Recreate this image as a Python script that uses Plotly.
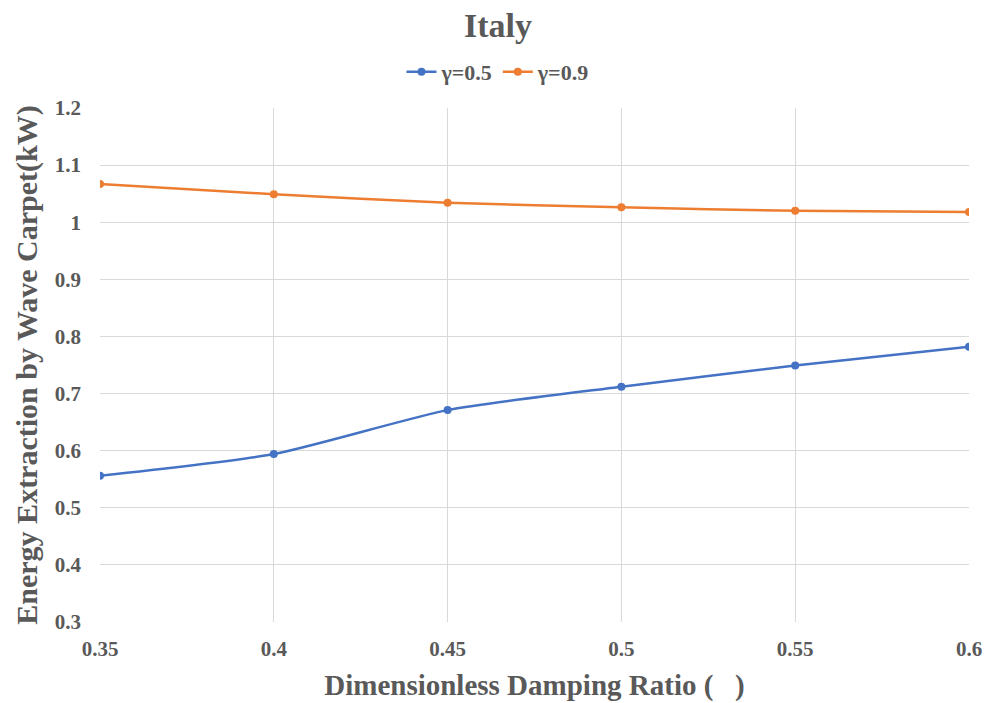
import plotly.graph_objects as go

damping = [0.35, 0.4, 0.45, 0.5, 0.55, 0.6]
gamma_05 = [0.556, 0.594, 0.671, 0.712, 0.749, 0.782]
gamma_09 = [1.067, 1.049, 1.034, 1.026, 1.020, 1.018]
x_ticks = [0.35, 0.4, 0.45, 0.5, 0.55, 0.6]
x_tick_labels = ["0.35", "0.4", "0.45", "0.5", "0.55", "0.6"]
y_ticks = [0.3, 0.4, 0.5, 0.6, 0.7, 0.8, 0.9, 1.0, 1.1, 1.2]
y_tick_labels = ["0.3", "0.4", "0.5", "0.6", "0.7", "0.8", "0.9", "1", "1.1", "1.2"]

font_family = "Liberation Serif, Times New Roman, serif"
gray = "#595959"

fig = go.Figure()
fig.add_trace(go.Scatter(x=damping, y=gamma_05, mode="lines+markers", name="<b>γ=0.5</b>",
                         line=dict(color="#4472C4", width=2.5, shape="spline", smoothing=0.6),
                         marker=dict(size=8, color="#4472C4")))
fig.add_trace(go.Scatter(x=damping, y=gamma_09, mode="lines+markers", name="<b>γ=0.9</b>",
                         line=dict(color="#ED7D31", width=2.5, shape="spline", smoothing=0.6),
                         marker=dict(size=8, color="#ED7D31")))

fig.update_layout(
    width=990, height=703,
    paper_bgcolor="white", plot_bgcolor="white",
    margin=dict(l=100, r=21, t=108, b=81, autoexpand=False),
    font=dict(family=font_family, color=gray, size=21),
    title=dict(text="<b>Italy</b>", x=0.503, xref="container", xanchor="center", y=0.965, yanchor="middle",
               font=dict(size=34, color=gray, family=font_family)),
    legend=dict(orientation="h", xref="paper", yref="paper", x=0.458, xanchor="center",
                y=1.07, yanchor="middle",
                font=dict(size=22, color=gray, family=font_family), itemwidth=30,
                traceorder="normal"),
    xaxis=dict(range=[0.35, 0.6], tickvals=x_ticks, ticktext=["<b>%s</b>" % t for t in x_tick_labels],
               showgrid=True, gridcolor="#D9D9D9", gridwidth=1, zeroline=False,
               showline=False, ticks="", tickfont=dict(size=21, color=gray), ticklabelstandoff=12,
               title=dict(text="<b>Dimensionless Damping Ratio (   )</b>", font=dict(size=29, color=gray), standoff=14)),
    yaxis=dict(range=[0.3, 1.2], tickvals=y_ticks, ticktext=["<b>%s</b>" % t for t in y_tick_labels],
               showgrid=True, gridcolor="#D9D9D9", gridwidth=1, zeroline=False,
               showline=False, ticks="", tickfont=dict(size=21, color=gray), ticklabelstandoff=18,
               title=dict(text="<b>Energy Extraction by Wave Carpet(kW)</b>", font=dict(size=30, color=gray), standoff=8)),
)

fig.write_html("out.html")
